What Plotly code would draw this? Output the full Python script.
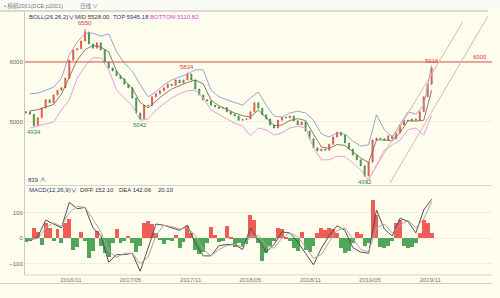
import plotly.graph_objects as go
import pandas as pd

# ---------------- data ----------------
candle_start = "2016-06-17"
candle_step = "12D"
first_open = 5150
close = [5170, 5130, 4940, 5070, 5230, 5370, 5320, 5450, 5530, 5570,
         5730, 6030, 6200, 6220, 6350, 6500, 6300, 6230, 6320, 6200,
         6000, 5900, 5850, 5770, 5720, 5630, 5570, 5400, 5150, 5050,
         5280, 5270, 5420, 5470, 5520, 5570, 5630, 5610, 5700, 5650,
         5700, 5800, 5700, 5550, 5450, 5370, 5350, 5280, 5250, 5230,
         5240, 5170, 5130, 5100, 5030, 5040, 5050, 5170, 5320, 5230,
         5120, 5050, 4950, 4900, 5030, 5080, 5070, 5100, 5020, 4950,
         5000, 4850, 4720, 4570, 4520, 4550, 4530, 4630, 4750, 4830,
         4780, 4650, 4550, 4450, 4370, 4270, 4100, 4330, 4700, 4730,
         4720, 4700, 4770, 4720, 4820, 4950, 5030, 5020, 5050, 5030,
         5170, 5420, 5630, 5900]

# labelled extremes: (candle index, value, kind)
extremes = [(2, 4934, "low"), (15, 6550, "high"), (29, 5042, "low"),
            (41, 5824, "high"), (86, 4092, "low"), (103, 5916, "high")]

# Bollinger bands, read on every second candle
boll_top = [5470, 5480, 5530, 5580, 5730, 6120, 6330, 6480, 6480, 6430,
            6470, 6170, 5980, 5850, 5620, 5420, 5500, 5620, 5700, 5750,
            5800, 5870, 5870, 5530, 5420, 5370, 5320, 5280, 5400, 5500,
            5280, 5100, 5080, 5150, 5180, 5150, 5030, 4800, 4750, 4820,
            4800, 4680, 4600, 4620, 5120, 4870, 4750, 4950, 5170, 5130,
            5280, 5945]
boll_mid = [5185, 5205, 5250, 5290, 5465, 5745, 6030, 6205, 6275, 6250,
            6170, 5850, 5690, 5560, 5325, 5235, 5350, 5460, 5550, 5610,
            5660, 5700, 5635, 5365, 5270, 5210, 5150, 5105, 5085, 5200,
            5075, 4940, 4950, 5025, 5055, 5025, 4800, 4585, 4560, 4625,
            4610, 4500, 4400, 4325, 4700, 4700, 4685, 4825, 5020, 5015,
            5030, 5528]
boll_bot = [4900, 4930, 4970, 5000, 5200, 5370, 5730, 5930, 6070, 6070,
            5870, 5530, 5400, 5270, 5030, 5050, 5200, 5300, 5400, 5470,
            5520, 5530, 5400, 5200, 5120, 5050, 4980, 4930, 4770, 4900,
            4870, 4780, 4820, 4900, 4930, 4900, 4570, 4370, 4370, 4430,
            4420, 4320, 4200, 4030, 4280, 4530, 4620, 4700, 4870, 4900,
            4780, 5111]

# MACD histogram (every candle)
macd_hist = [-15, -10, 40, 25, -28, 60, 40, -10, 35, -20,
             60, 75, -45, -35, 22, -10, -80, -50, 28, -30,
             -60, -75, -20, 35, -18, -12, 8, -20, -55, -30,
             60, 65, 55, 20, -5, -22, -8, -10, 10, -38,
             -15, 48, 20, -45, -62, -55, -20, 45, 10, -15,
             -10, 48, 5, -35, -20, -30, -25, 90, 70, -20,
             -90, -60, -30, -10, 40, 35, 5, -10, -40, -50,
             25, -45, -55, -30, 20, 40, 30, 38, 35, 20,
             -40, -60, -50, -20, 25, 15, -30, -20, 150, 90,
             -35, -40, -30, -10, 60, 70, -30, -40, -35, -20,
             20, 70, 60, 20]
# DIFF / DEA, read on every second candle
macd_diff = [-10, 5, 70, 55, 40, 140, 115, 120, 40, 10,
             -95, -65, -65, -60, -130, -40, 55, 50, 40, 30,
             50, -20, -70, -70, -30, -25, -25, -45, 40, -10,
             -55, -25, 24, 20, -15, -60, -105, -40, 10, 48,
             30, -38, -55, -60, 110, 35, 8, 78, 65, 20,
             110, 152]
macd_dea = [-5, -2, 40, 60, 45, 100, 125, 120, 75, 25,
            -50, -75, -60, -60, -100, -75, 10, 50, 45, 35,
            40, 10, -45, -70, -45, -30, -25, -35, 5, 10,
            -30, -40, 0, 20, 5, -35, -80, -65, -15, 30,
            40, -5, -45, -55, 40, 55, 20, 50, 70, 40,
            75, 142]

key_level = 6000
channel_upper = [("2019-04-20", 3983), ("2020-02-08", 6667)]
channel_lower = [("2019-07-01", 3983), ("2020-04-25", 6767)]

x_ticks_start = "2016-11-01"

# ---------------- build ----------------
dates = pd.date_range(candle_start, periods=len(close), freq=candle_step)
band_dates = dates[1::2]
opens = [first_open] + close[:-1]
highs = [max(o, c) for o, c in zip(opens, close)]
lows = [min(o, c) for o, c in zip(opens, close)]
for i, v, kind in extremes:
    if kind == "high":
        highs[i] = max(highs[i], v)
    else:
        lows[i] = min(lows[i], v)

RED = "#d9473a"
GREEN = "#3d8a45"
BG = "#fefdee"
FONT = "Liberation Sans, Noto Sans CJK SC"

fig = go.Figure()
fig.add_trace(go.Candlestick(
    x=dates, open=opens, high=highs, low=lows, close=close,
    increasing=dict(line=dict(color=RED, width=0.8), fillcolor="#e98a7e"),
    decreasing=dict(line=dict(color=GREEN, width=0.8), fillcolor="#5c9c60"),
    whiskerwidth=0, showlegend=False, xaxis="x", yaxis="y"))
fig.add_trace(go.Scatter(x=band_dates, y=boll_top, mode="lines",
                         line=dict(color="#9aa3cf", width=1), showlegend=False))
fig.add_trace(go.Scatter(x=band_dates, y=boll_mid, mode="lines",
                         line=dict(color="#707060", width=0.9), showlegend=False))
fig.add_trace(go.Scatter(x=band_dates, y=boll_bot, mode="lines",
                         line=dict(color="#e6a0dc", width=1), showlegend=False))

fig.add_trace(go.Bar(x=dates, y=macd_hist,
                     marker=dict(color=["#ef5d55" if v >= 0 else "#52a659" for v in macd_hist],
                                 line=dict(width=0)),
                     showlegend=False, xaxis="x2", yaxis="y2"))
fig.add_trace(go.Scatter(x=band_dates, y=macd_diff, mode="lines",
                         line=dict(color="#505050", width=1), showlegend=False,
                         xaxis="x2", yaxis="y2"))
fig.add_trace(go.Scatter(x=band_dates, y=macd_dea, mode="lines",
                         line=dict(color="#a8a8a8", width=1), showlegend=False,
                         xaxis="x2", yaxis="y2"))

W, H = 500, 298
def px(x):
    return x / W
def py(y):
    return 1 - y / H

xr = ["2016-06-14", "2020-05-07"]
dom = [px(25), px(492)]
fig.update_layout(
    width=W, height=H, margin=dict(l=0, r=0, t=0, b=0),
    paper_bgcolor=BG, plot_bgcolor=BG, bargap=0, boxgap=0.62,
    font=dict(family=FONT, size=6, color="#666"),
    xaxis=dict(domain=dom, range=xr, anchor="y", showticklabels=False,
               showgrid=False, zeroline=False, rangeslider=dict(visible=False),
               type="date"),
    yaxis=dict(domain=[py(185), py(12)], range=[3950, 6833], anchor="x",
               tickvals=[5000, 6000], ticks="", showgrid=True,
               gridcolor="#efeedb", gridwidth=1, zeroline=False,
               showline=True, linecolor="#c9c9bd", linewidth=1,
               tickfont=dict(size=6, color="#666")),
    xaxis2=dict(domain=dom, range=xr, anchor="y2", matches="x", type="date",
                tick0=x_ticks_start, dtick="M6", tickformat="%Y/%m",
                ticks="", showgrid=False, zeroline=False,
                tickfont=dict(size=6, color="#777")),
    yaxis2=dict(domain=[py(275), py(186)], range=[-145, 204], anchor="x2",
                tickvals=[-100, 0, 100], ticks="", showgrid=True,
                gridcolor="#efeedb", zeroline=False, showline=True,
                linecolor="#c9c9bd", linewidth=1,
                tickfont=dict(size=6, color="#666")),
)

shapes = [
    dict(type="rect", xref="paper", yref="paper", x0=0, x1=1, y0=py(11), y1=1,
         fillcolor="#fbfbf6", line=dict(width=0), layer="below"),
    dict(type="line", xref="paper", yref="paper", x0=0, x1=px(488), y0=py(11), y1=py(11),
         line=dict(color="#b8b8b0", width=1)),
    dict(type="line", xref="paper", yref="paper", x0=px(25), x1=px(492), y0=py(185.5), y1=py(185.5),
         line=dict(color="#d6d6c8", width=1)),
    dict(type="line", xref="paper", yref="paper", x0=px(25), x1=px(492), y0=py(275), y1=py(275),
         line=dict(color="#d6d6c8", width=1)),
    dict(type="line", xref="paper", yref="paper", x0=0, x1=px(492), y0=py(283.5), y1=py(283.5),
         line=dict(color="#d0d0c4", width=1)),
    dict(type="line", xref="paper", yref="y", x0=dom[0], x1=dom[1], y0=key_level, y1=key_level,
         line=dict(color="#d9534f", width=1)),
    dict(type="line", xref="x", yref="y", x0=channel_upper[0][0], y0=channel_upper[0][1],
         x1=channel_upper[1][0], y1=channel_upper[1][1], line=dict(color="#e5b2ae", width=1)),
    dict(type="line", xref="x", yref="y", x0=channel_lower[0][0], y0=channel_lower[0][1],
         x1=channel_lower[1][0], y1=channel_lower[1][1], line=dict(color="#e5b2ae", width=1)),
]
fig.update_layout(shapes=shapes)

ann = []
def text(x, y, s, color, size=6, anchor="left"):
    ann.append(dict(xref="paper", yref="paper", x=px(x), y=py(y), text=s,
                    showarrow=False, xanchor=anchor, yanchor="middle",
                    font=dict(family=FONT, size=size, color=color)))

text(2, 6, "• 棕榈2001(DCE p2001)", "#7a7a7a", 5.5)
text(78, 6, "日线 ∨", "#7a7a7a", 5.5)
text(27, 17, "BOLL(26,26,2)∨", "#2c3570", 6)
text(73, 17, "MID 5528.00", "#333344", 6)
text(111, 17, "TOP 5945.18", "#24308a", 6)
text(148, 17, "BOTTOM 5110.82", "#e040d8", 6)
text(26, 180, "839 ∧", "#2c3570", 6)
text(27, 190, "MACD(12,26,9)∨", "#2c3570", 6)
text(78, 190, "DIFF 152.10", "#333344", 6)
text(117, 190, "DEA 142.06", "#333344", 6)
text(156, 190, "20.10", "#333344", 6)

for i, v, kind in extremes:
    ann.append(dict(xref="x", yref="y", x=dates[i], y=v, text=str(v), showarrow=False,
                    yshift=6 if kind == "high" else -6,
                    yanchor="middle", xanchor="center",
                    font=dict(family=FONT, size=6,
                              color="#e0403a" if kind == "high" else "#2a8a3a")))
ann.append(dict(xref="paper", yref="y", x=px(480), y=key_level, text=str(key_level),
                showarrow=False, yshift=5, xanchor="center", yanchor="middle",
                font=dict(family=FONT, size=6, color="#e0403a")))
fig.update_layout(annotations=ann)

fig.write_html("out.html")
